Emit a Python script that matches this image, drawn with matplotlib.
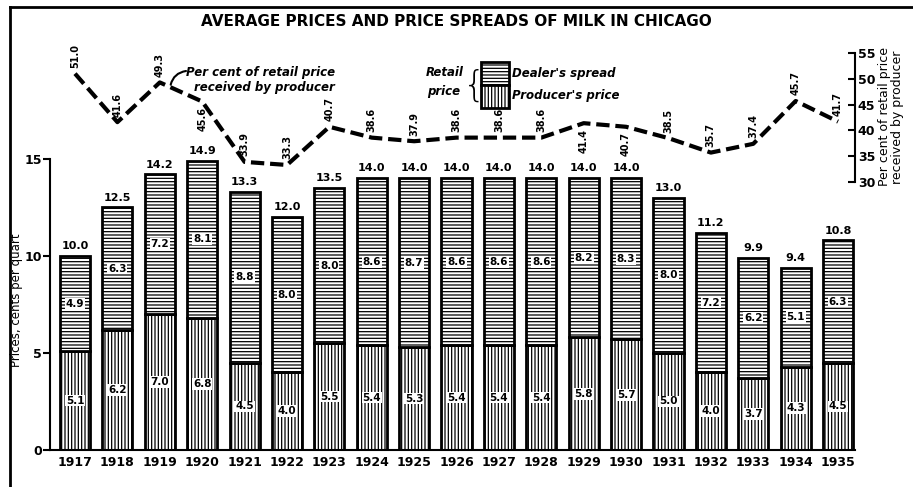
import matplotlib
matplotlib.use("Agg")
import matplotlib.pyplot as plt
from matplotlib.patches import Rectangle
from matplotlib.lines import Line2D

years = list(range(1917, 1936))
retail = [10.0, 12.5, 14.2, 14.9, 13.3, 12.0, 13.5, 14.0, 14.0, 14.0,
          14.0, 14.0, 14.0, 14.0, 13.0, 11.2, 9.9, 9.4, 10.8]
producer = [5.1, 6.2, 7.0, 6.8, 4.5, 4.0, 5.5, 5.4, 5.3, 5.4,
            5.4, 5.4, 5.8, 5.7, 5.0, 4.0, 3.7, 4.3, 4.5]
dealer = [4.9, 6.3, 7.2, 8.1, 8.8, 8.0, 8.0, 8.6, 8.7, 8.6,
          8.6, 8.6, 8.2, 8.3, 8.0, 7.2, 6.2, 5.1, 6.3]
pct_producer = [51.0, 41.6, 49.3, 45.6, 33.9, 33.3, 40.7, 38.6, 37.9, 38.6,
                38.6, 38.6, 41.4, 40.7, 38.5, 35.7, 37.4, 45.7, 41.7]
# years whose percent label sits under the line rather than above it
pct_below = {1920, 1929, 1930}

plt.rcParams["hatch.linewidth"] = 0.9
plt.rcParams["font.family"] = "DejaVu Sans"

W, H = 913, 487
fig = plt.figure(figsize=(W / 100, H / 100), dpi=100)

# axes box in pixels: left 50, right 855, top 40, bottom 450
ax = fig.add_axes([50 / W, (H - 450) / H, 805 / W, 410 / H])
x = list(range(len(years)))
bw = 0.71

ax.bar(x, producer, width=bw, facecolor="white", edgecolor="black",
       linewidth=2, hatch="|||||", zorder=2)
ax.bar(x, dealer, width=bw, bottom=producer, facecolor="white",
       edgecolor="black", linewidth=2, hatch="-----", zorder=2)

box = dict(facecolor="white", edgecolor="none", pad=0.6)
for i in x:
    ax.text(i, producer[i] / 2, f"{producer[i]:.1f}", ha="center", va="center",
            fontsize=7.5, fontweight="bold", bbox=box, zorder=3)
    ax.text(i, producer[i] + dealer[i] / 2, f"{dealer[i]:.1f}", ha="center",
            va="center", fontsize=7.5, fontweight="bold", bbox=box, zorder=3)
    ax.text(i, retail[i] + 0.25, f"{retail[i]:.1f}", ha="center", va="bottom",
            fontsize=8, fontweight="bold")

ax.set_xlim(-0.59, 18.4)
ax.set_ylim(0, 21.13)
ax.set_xticks(x)
ax.set_xticklabels([str(y) for y in years], fontsize=9, fontweight="bold")
ax.set_yticks([0, 5, 10, 15])
ax.set_yticklabels(["0", "5", "10", "15"], fontsize=9, fontweight="bold")
ax.tick_params(axis="x", length=0, pad=4)
ax.tick_params(axis="y", length=5, width=1.5, pad=1)
ax.spines["top"].set_visible(False)
ax.spines["right"].set_visible(False)
ax.spines["left"].set_bounds(0, 15)
ax.spines["left"].set_linewidth(1.5)
ax.spines["bottom"].set_linewidth(1.5)
fig.text(17 / W, 1 - 300 / H, "Prices, cents per quart", rotation=90,
         ha="center", va="center", fontsize=8.5)

# percent line on its own scale (30-55 spine at the right)
ax2 = ax.twinx()
ax2.set_ylim(-21.94, 57.52)
ax2.plot(x, pct_producer, color="black", linewidth=3, dashes=[3.2, 1.4],
         solid_capstyle="butt", zorder=4)
for i, (yr, v) in enumerate(zip(years, pct_producer)):
    below = yr in pct_below
    ax2.annotate(f"{v:.1f}", (i, v), textcoords="offset points",
                 xytext=(0, -4 if below else 4), ha="center",
                 va="top" if below else "bottom", rotation=90,
                 fontsize=7, fontweight="bold")
ax2.set_yticks([30, 35, 40, 45, 50, 55])
ax2.set_yticklabels(["30", "35", "40", "45", "50", "55"], fontsize=9,
                    fontweight="bold")
ax2.tick_params(axis="y", direction="in", length=5, width=1.5, pad=2)
for s in ["top", "left", "bottom"]:
    ax2.spines[s].set_visible(False)
ax2.spines["right"].set_bounds(30, 55)
ax2.spines["right"].set_linewidth(1.5)
fig.text(891 / W, 1 - 117 / H, "Per cent of retail price\nreceived by producer",
         rotation=90, ha="center", va="center", fontsize=9, linespacing=1.0)

# callout for the line
fig.text(335 / W, 1 - 80 / H, "Per cent of retail price\nreceived by producer",
         ha="right", va="center", multialignment="right", fontsize=8.5,
         fontweight="bold", style="italic", linespacing=1.15)
ax2.annotate("", xy=(2.25, 48.6), xytext=(186 / W, 1 - 71 / H),
             textcoords="figure fraction",
             arrowprops=dict(arrowstyle="-", lw=1.5, color="black",
                             connectionstyle="arc3,rad=0.35",
                             shrinkA=0, shrinkB=1))

# legend drawn by hand
fig.text(464 / W, 1 - 72 / H, "Retail", ha="right", va="center",
         fontsize=8.5, fontweight="bold", style="italic")
fig.text(460 / W, 1 - 92 / H, "price", ha="right", va="center",
         fontsize=8.5, fontweight="bold", style="italic")
fig.text(474 / W, 1 - 86 / H, "{", ha="center", va="center", fontsize=26,
         fontweight="light")
fig.patches.append(Rectangle((481 / W, 1 - 85 / H), 28 / W, 23 / H,
                             transform=fig.transFigure, facecolor="white",
                             edgecolor="black", linewidth=2, hatch="-----"))
fig.patches.append(Rectangle((481 / W, 1 - 108 / H), 28 / W, 23 / H,
                             transform=fig.transFigure, facecolor="white",
                             edgecolor="black", linewidth=2, hatch="|||||"))
fig.text(512 / W, 1 - 73 / H, "Dealer's spread", ha="left", va="center",
         fontsize=8.5, fontweight="bold", style="italic")
fig.text(512 / W, 1 - 95 / H, "Producer's price", ha="left", va="center",
         fontsize=8.5, fontweight="bold", style="italic")

fig.text(0.5, 1 - 22 / H, "AVERAGE PRICES AND PRICE SPREADS OF MILK IN CHICAGO",
         ha="center", va="center", fontsize=11, fontweight="bold")

# frame of the original plate (left and top edges)
fig.add_artist(Line2D([10 / W, 10 / W], [0, 1 - 7 / H], transform=fig.transFigure,
                      color="black", linewidth=2))
fig.add_artist(Line2D([10 / W, 1], [1 - 7 / H, 1 - 7 / H], transform=fig.transFigure,
                      color="black", linewidth=2))

fig.savefig("out.png", dpi=100)
